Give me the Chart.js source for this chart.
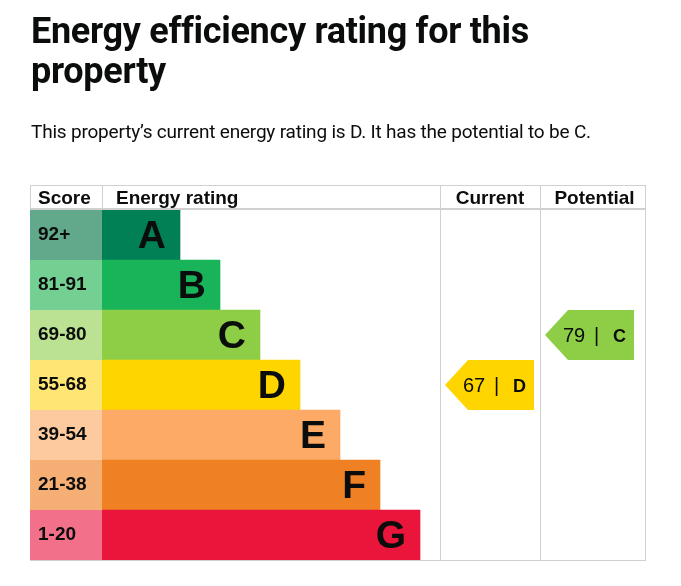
<!DOCTYPE html>
<html>
<head>
<meta charset="utf-8">
<script src="https://cdn.jsdelivr.net/npm/chart.js@4.4.1/dist/chart.umd.min.js"></script>
<style>
  html, body { margin: 0; padding: 0; background: #fff; }
  body { width: 681px; height: 586px; position: relative; overflow: hidden; }
  #epc { position: absolute; left: 0; top: 0; }
  #title {
    position: absolute; left: 31px; top: 11px; margin: 0;
    font-family: Roboto, sans-serif; font-weight: 700; font-size: 36px; line-height: 40px;
    letter-spacing: -0.3px; color: #0b0c0c;
  }
  #lead {
    position: absolute; left: 31px; top: 120px; margin: 0;
    font-family: Roboto, sans-serif; font-size: 19px; line-height: 24px;
    letter-spacing: -0.2px; color: #0b0c0c;
  }
</style>
</head>
<body>
<canvas id="epc" width="681" height="586"></canvas>
<h1 id="title">Energy efficiency rating for this<br>property</h1>
<p id="lead">This property’s current energy rating is D. It has the potential to be C.</p>
<script>
const RATINGS = ['A', 'B', 'C', 'D', 'E', 'F', 'G'];
const SCORE_RANGES = ['92+', '81-91', '69-80', '55-68', '39-54', '21-38', '1-20'];
const BAND_MIN = [92, 81, 69, 55, 39, 21, 1];
const BAR_LENGTHS = [78, 118, 158, 198, 238, 278, 318];
const BAR_COLOURS = ['#008054', '#19b459', '#8dce46', '#ffd500', '#fcaa65', '#ef8023', '#e9153b'];
const SCORE_COLOURS = ['#62a88a', '#74cf93', '#bbe192', '#ffe573', '#fdcaa0', '#f5ae74', '#f27089'];
const HEADERS = ['Score', 'Energy rating', 'Current', 'Potential'];
const CURRENT_SCORE = 67;
const POTENTIAL_SCORE = 79;

const TEXT = '#0b0c0c';
const LINE = '#d0d0d0';
const ARIAL = '"Liberation Sans", Arial, sans-serif';
// table columns (page px)
const COL = { score: 30, current: 440, potential: 540, right: 645, headTop: 185 };

function bandOf(score) {
  return BAND_MIN.findIndex(min => score >= min);
}

function drawArrow(ctx, left, yc, h, i, score) {
  const tip = left + 5, right = left + 94, half = h / 2;
  ctx.fillStyle = BAR_COLOURS[i];
  ctx.beginPath();
  ctx.moveTo(tip, yc);
  ctx.lineTo(tip + 23, yc - half);
  ctx.lineTo(right, yc - half);
  ctx.lineTo(right, yc + half);
  ctx.lineTo(tip + 23, yc + half);
  ctx.closePath();
  ctx.fill();
  ctx.fillStyle = TEXT;
  ctx.textAlign = 'left';
  ctx.textBaseline = 'alphabetic';
  ctx.font = '20px ' + ARIAL;
  ctx.fillText(String(score), right - 71, yc + 7);
  ctx.fillText('|', right - 40, yc + 7);
  ctx.font = 'bold 18px ' + ARIAL;
  ctx.fillText(RATINGS[i], right - 21, yc + 7);
}

const epcTable = {
  id: 'epcTable',
  beforeDatasetsDraw(chart) {
    const { ctx, chartArea } = chart;
    const bars = chart.getDatasetMeta(0).data;
    ctx.save();
    // score cells
    bars.forEach((bar, i) => {
      const top = bar.y - bar.height / 2;
      ctx.fillStyle = SCORE_COLOURS[i];
      ctx.fillRect(COL.score, top, chartArea.left - COL.score, bar.height);
      ctx.fillStyle = TEXT;
      ctx.font = 'bold 19px ' + ARIAL;
      ctx.textAlign = 'left';
      ctx.fillText(SCORE_RANGES[i], COL.score + 8, bar.y + 5);
    });
    // grid lines
    ctx.strokeStyle = LINE;
    ctx.lineWidth = 1;
    ctx.beginPath();
    ctx.moveTo(COL.score, COL.headTop + 0.5); ctx.lineTo(COL.right + 1, COL.headTop + 0.5);
    ctx.moveTo(COL.score, chartArea.bottom + 0.5); ctx.lineTo(COL.right + 1, chartArea.bottom + 0.5);
    ctx.moveTo(COL.score + 0.5, COL.headTop); ctx.lineTo(COL.score + 0.5, chartArea.top);
    ctx.moveTo(chartArea.left + 0.5, COL.headTop); ctx.lineTo(chartArea.left + 0.5, chartArea.top);
    [COL.current, COL.potential, COL.right].forEach(x => {
      ctx.moveTo(x + 0.5, COL.headTop); ctx.lineTo(x + 0.5, chartArea.bottom);
    });
    ctx.stroke();
    ctx.lineWidth = 2;
    ctx.beginPath();
    ctx.moveTo(COL.score, chartArea.top - 1); ctx.lineTo(COL.right + 1, chartArea.top - 1);
    ctx.stroke();
    // header text
    ctx.fillStyle = TEXT;
    ctx.font = 'bold 19px ' + ARIAL;
    const base = chartArea.top - 6;
    ctx.textAlign = 'left';
    ctx.fillText(HEADERS[0], COL.score + 8, base);
    ctx.fillText(HEADERS[1], chartArea.left + 14, base);
    ctx.textAlign = 'center';
    ctx.fillText(HEADERS[2], (COL.current + COL.potential) / 2, base);
    ctx.fillText(HEADERS[3], (COL.potential + COL.right) / 2 + 2, base);
    ctx.restore();
  },
  afterDatasetsDraw(chart) {
    const { ctx } = chart;
    const bars = chart.getDatasetMeta(0).data;
    ctx.save();
    // band letters at the end of each bar
    ctx.fillStyle = TEXT;
    ctx.font = 'bold 39px ' + ARIAL;
    ctx.textAlign = 'right';
    ctx.textBaseline = 'alphabetic';
    bars.forEach((bar, i) => {
      ctx.fillText(RATINGS[i], bar.x - 14, bar.y + 13);
    });
    // current / potential arrows
    const cur = bandOf(CURRENT_SCORE), pot = bandOf(POTENTIAL_SCORE);
    drawArrow(ctx, COL.current, bars[cur].y, bars[cur].height, cur, CURRENT_SCORE);
    drawArrow(ctx, COL.potential, bars[pot].y, bars[pot].height, pot, POTENTIAL_SCORE);
    ctx.restore();
  }
};

new Chart(document.getElementById('epc'), {
  type: 'bar',
  data: {
    labels: RATINGS,
    datasets: [{
      data: BAR_LENGTHS,
      backgroundColor: BAR_COLOURS,
      borderWidth: 0,
      barPercentage: 1,
      categoryPercentage: 1
    }]
  },
  options: {
    indexAxis: 'y',
    responsive: false,
    animation: false,
    events: [],
    layout: { padding: { left: 102, right: 681 - 440, top: 210, bottom: 586 - 560 } },
    plugins: { legend: { display: false }, tooltip: { enabled: false } },
    scales: {
      x: { display: false, min: 0, max: 338 },
      y: { display: false }
    }
  },
  plugins: [epcTable]
});
</script>
</body>
</html>
